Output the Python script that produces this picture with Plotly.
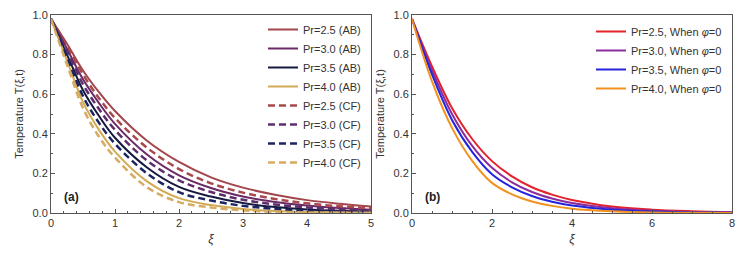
import plotly.graph_objects as go

# ---------------- data ----------------
xi_a = [0, 0.25, 0.5, 0.75, 1, 1.5, 2, 2.5, 3, 3.5, 4, 4.5, 5]
ab_25 = [0.98, 0.855, 0.72, 0.61, 0.515, 0.365, 0.258, 0.180, 0.128, 0.092, 0.065, 0.047, 0.033]
ab_30 = [0.98, 0.83, 0.675, 0.555, 0.45, 0.295, 0.19, 0.126, 0.083, 0.056, 0.038, 0.025, 0.017]
ab_35 = [0.98, 0.80, 0.62, 0.49, 0.38, 0.23, 0.132, 0.083, 0.050, 0.030, 0.018, 0.011, 0.007]
ab_40 = [0.98, 0.77, 0.56, 0.42, 0.31, 0.16, 0.075, 0.040, 0.020, 0.010, 0.005, 0.003, 0.002]
cf_25 = [0.98, 0.845, 0.70, 0.58, 0.48, 0.33, 0.222, 0.150, 0.103, 0.071, 0.049, 0.034, 0.024]
cf_30 = [0.98, 0.82, 0.65, 0.525, 0.42, 0.265, 0.165, 0.106, 0.067, 0.043, 0.028, 0.018, 0.012]
cf_35 = [0.98, 0.79, 0.59, 0.455, 0.35, 0.20, 0.105, 0.063, 0.036, 0.021, 0.012, 0.007, 0.004]
cf_40 = [0.98, 0.75, 0.53, 0.385, 0.28, 0.13, 0.055, 0.028, 0.013, 0.006, 0.003, 0.002, 0.001]

xi_b = [0, 0.5, 1, 1.5, 2, 2.5, 3, 3.5, 4, 5, 6, 7, 8]
phi_25 = [0.98, 0.74, 0.53, 0.375, 0.262, 0.185, 0.130, 0.093, 0.066, 0.033, 0.017, 0.009, 0.004]
phi_30 = [0.98, 0.72, 0.50, 0.340, 0.228, 0.155, 0.106, 0.073, 0.050, 0.024, 0.011, 0.005, 0.003]
phi_35 = [0.98, 0.70, 0.47, 0.310, 0.196, 0.130, 0.086, 0.057, 0.038, 0.017, 0.007, 0.003, 0.001]
phi_40 = [0.98, 0.665, 0.43, 0.265, 0.152, 0.094, 0.058, 0.036, 0.022, 0.009, 0.003, 0.001, 0.0005]

y_ticks = [0.0, 0.2, 0.4, 0.6, 0.8, 1.0]
x_ticks_a = [0, 1, 2, 3, 4, 5]
x_ticks_b = [0, 2, 4, 6, 8]

# ---------------- figure ----------------
FONT = "Liberation Sans, Arial, sans-serif"
fig = go.Figure()

left_cols = ["#a3464c", "#6b2a66", "#15183f", "#d2aa55"]
cf_cols = ["#a8484c", "#5e2d6c", "#1c2462", "#d6ab62"]
names_ab = ["Pr=2.5 (AB)", "Pr=3.0 (AB)", "Pr=3.5 (AB)", "Pr=4.0 (AB)"]
names_cf = ["Pr=2.5 (CF)", "Pr=3.0 (CF)", "Pr=3.5 (CF)", "Pr=4.0 (CF)"]

for ys, c, n in zip([ab_25, ab_30, ab_35, ab_40], left_cols, names_ab):
    fig.add_trace(go.Scatter(x=xi_a, y=ys, mode="lines", name=n,
                             line=dict(color=c, width=2, shape="spline"),
                             xaxis="x", yaxis="y", legend="legend"))
for ys, c, n in zip([cf_25, cf_30, cf_35, cf_40], cf_cols, names_cf):
    fig.add_trace(go.Scatter(x=xi_a, y=ys, mode="lines", name=n,
                             line=dict(color=c, width=2.5, shape="spline", dash="7px,4px"),
                             xaxis="x", yaxis="y", legend="legend"))

right_cols = ["#e3232c", "#8b2c9e", "#2424dd", "#f2911e"]
names_b = ["Pr=2.5, When <i>φ</i>=0", "Pr=3.0, When <i>φ</i>=0",
           "Pr=3.5, When <i>φ</i>=0", "Pr=4.0, When <i>φ</i>=0"]
for ys, c, n in zip([phi_25, phi_30, phi_35, phi_40], right_cols, names_b):
    fig.add_trace(go.Scatter(x=xi_b, y=ys, mode="lines", name=n,
                             line=dict(color=c, width=2, shape="spline"),
                             xaxis="x2", yaxis="y2", legend="legend2"))

# The page body has an 8px margin, so the figure sits at (8, 8) in the window.
OFF = 8
W, H = 751 - OFF, 254 - OFF
def px_x(p): return (p - OFF) / W
def px_y(p): return 1 - (p - OFF) / H

axis_common = dict(showline=True, linecolor="#555", linewidth=1, mirror=True,
                   ticks="inside", ticklen=4, tickcolor="#555", showgrid=False,
                   zeroline=False, automargin=False,
                   tickfont=dict(family=FONT, size=11, color="#333"))

fig.update_layout(
    template="none",
    width=W, height=H, margin=dict(l=0, r=0, t=0, b=0),
    paper_bgcolor="white", plot_bgcolor="white",
    font=dict(family=FONT, size=11, color="#333"),
    xaxis=dict(domain=[px_x(51), px_x(371)], range=[0, 5], tickvals=x_ticks_a,
               minor=dict(dtick=0.2, ticks="inside", ticklen=2, tickcolor="#555"),
               title=dict(text="<i>ξ</i>", standoff=6, font=dict(size=12)),
               anchor="y", **axis_common),
    yaxis=dict(domain=[px_y(213), px_y(15)], range=[0, 1], tickvals=y_ticks,
               tickformat=".1f",
               minor=dict(dtick=0.1, ticks="inside", ticklen=2, tickcolor="#555"),
               title=dict(text="Temperature T(ξ,t)", standoff=6, font=dict(size=11)),
               anchor="x", **axis_common),
    xaxis2=dict(domain=[px_x(412), px_x(732)], range=[0, 8], tickvals=x_ticks_b,
                minor=dict(dtick=0.5, ticks="inside", ticklen=2, tickcolor="#555"),
                title=dict(text="<i>ξ</i>", standoff=6, font=dict(size=12)),
                anchor="y2", **axis_common),
    yaxis2=dict(domain=[px_y(213), px_y(15)], range=[0, 1], tickvals=y_ticks,
                tickformat=".1f",
                minor=dict(dtick=0.1, ticks="inside", ticklen=2, tickcolor="#555"),
                title=dict(text="Temperature T(ξ,t)", standoff=6, font=dict(size=11)),
                anchor="x2", **axis_common),
    legend=dict(x=px_x(366), y=px_y(15), xanchor="right", yanchor="top",
                bgcolor="rgba(0,0,0,0)", font=dict(family=FONT, size=11, color="#333"),
                tracegroupgap=0, itemwidth=30),
    legend2=dict(x=px_x(727), y=px_y(17), xanchor="right", yanchor="top",
                 bgcolor="rgba(0,0,0,0)", font=dict(family=FONT, size=11, color="#333"),
                 tracegroupgap=0, itemwidth=30),
    annotations=[
        dict(text="<b>(a)</b>", x=px_x(62), y=px_y(197), xref="paper", yref="paper",
             xanchor="left", yanchor="middle", showarrow=False,
             font=dict(family=FONT, size=12, color="#222")),
        dict(text="<b>(b)</b>", x=px_x(423), y=px_y(197), xref="paper", yref="paper",
             xanchor="left", yanchor="middle", showarrow=False,
             font=dict(family=FONT, size=12, color="#222")),
    ],
)

fig.write_html("out.html")
